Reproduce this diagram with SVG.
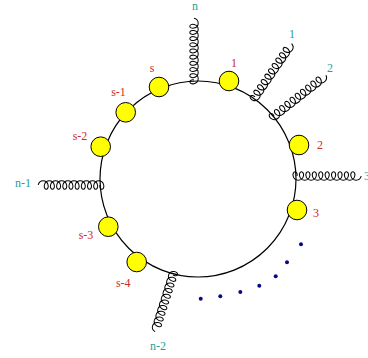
<svg xmlns="http://www.w3.org/2000/svg" xmlns:xlink="http://www.w3.org/1999/xlink" width="368" height="358" viewBox="0 0 368 358">
<style>
.ring{fill:none;stroke:#000;stroke-width:1.2}
.glu{fill:none;stroke:#000;stroke-width:1}
.blob{fill:#ffff00;stroke:#000;stroke-width:1}
.dot{fill:#0a0a80}
.lr{font-family:"Liberation Serif","Times New Roman",serif;font-size:12px;fill:#cc2a2a;text-anchor:middle}
.lt{font-family:"Liberation Serif","Times New Roman",serif;font-size:12px;fill:#1f9e9e;text-anchor:middle}
</style>
<defs>
<path id="g" class="glu" d="M0,0 c0.525,-2.31 -0.51,-4.2 -1.8,-4.2 c-1.29,0 -2.325,1.89 -1.8,4.2 c0.525,2.31 2.46,4.2 4.8,4.2 c2.34,0 4.275,-1.89 4.8,-4.2 c0.525,-2.31 -0.51,-4.2 -1.8,-4.2 c-1.29,0 -2.325,1.89 -1.8,4.2 c0.525,2.31 2.46,4.2 4.8,4.2 c2.34,0 4.275,-1.89 4.8,-4.2 c0.525,-2.31 -0.51,-4.2 -1.8,-4.2 c-1.29,0 -2.325,1.89 -1.8,4.2 c0.525,2.31 2.46,4.2 4.8,4.2 c2.34,0 4.275,-1.89 4.8,-4.2 c0.525,-2.31 -0.51,-4.2 -1.8,-4.2 c-1.29,0 -2.325,1.89 -1.8,4.2 c0.525,2.31 2.46,4.2 4.8,4.2 c2.34,0 4.275,-1.89 4.8,-4.2 c0.525,-2.31 -0.51,-4.2 -1.8,-4.2 c-1.29,0 -2.325,1.89 -1.8,4.2 c0.525,2.31 2.46,4.2 4.8,4.2 c2.34,0 4.275,-1.89 4.8,-4.2 c0.525,-2.31 -0.51,-4.2 -1.8,-4.2 c-1.29,0 -2.325,1.89 -1.8,4.2 c0.525,2.31 2.46,4.2 4.8,4.2 c2.34,0 4.275,-1.89 4.8,-4.2 c0.525,-2.31 -0.51,-4.2 -1.8,-4.2 c-1.29,0 -2.325,1.89 -1.8,4.2 c0.525,2.31 2.46,4.2 4.8,4.2 c2.34,0 4.275,-1.89 4.8,-4.2 c0.525,-2.31 -0.51,-4.2 -1.8,-4.2 c-1.29,0 -2.325,1.89 -1.8,4.2 c0.525,2.31 2.46,4.2 4.8,4.2 c2.34,0 4.275,-1.89 4.8,-4.2 c0.525,-2.31 -0.51,-4.2 -1.8,-4.2 c-1.29,0 -2.325,1.89 -1.8,4.2 c0.525,2.31 2.46,4.2 4.8,4.2 c2.34,0 4.275,-1.89 4.8,-4.2 c0.525,-2.31 -0.51,-4.2 -1.8,-4.2 c-1.29,0 -2.325,1.89 -1.8,4.2 c0.525,2.31 2.46,4.2 4.8,4.2 c2.34,0 4.275,-1.89 4.8,-4.2"/>
</defs>
<rect width="368" height="358" fill="#fff"/>
<g id="connectors">
<circle class="ring" cx="198" cy="179" r="98"/>
<use xlink:href="#g" href="#g" transform="translate(194,80) rotate(-90) scale(1.03,1)"/>
<use xlink:href="#g" href="#g" transform="translate(255,97) rotate(-55.6) scale(1.08,1)"/>
<use xlink:href="#g" href="#g" transform="translate(274,116) rotate(-38) scale(1.1,1)"/>
<use xlink:href="#g" href="#g" transform="translate(297,176) scale(1.07,1)"/>
<use xlink:href="#g" href="#g" transform="translate(100,185) rotate(180) scale(1.03,1)"/>
<use xlink:href="#g" href="#g" transform="translate(173,275) rotate(107.5) scale(0.99,1)"/>
</g>
<g id="dots">
<circle class="dot" cx="200.7" cy="298.7" r="2"/>
<circle class="dot" cx="220.3" cy="296.3" r="2"/>
<circle class="dot" cx="240.3" cy="292" r="2"/>
<circle class="dot" cx="259.3" cy="285.7" r="2"/>
<circle class="dot" cx="275.7" cy="276.3" r="2"/>
<circle class="dot" cx="287" cy="262.3" r="2"/>
<circle class="dot" cx="301" cy="244.3" r="2"/>
</g>
<g id="v1"><circle class="blob" cx="229" cy="81" r="9.8"/><text class="lr" x="234" y="67">1</text></g>
<g id="v2"><circle class="blob" cx="299" cy="145" r="9.8"/><text class="lr" x="320" y="149">2</text></g>
<g id="v3"><circle class="blob" cx="297" cy="210" r="9.8"/><text class="lr" x="316" y="217">3</text></g>
<g id="vs"><circle class="blob" cx="159" cy="87" r="9.8"/><text class="lr" x="152" y="72">s</text></g>
<g id="vs1"><circle class="blob" cx="125.7" cy="112.3" r="9.8"/><text class="lr" x="118.5" y="96">s-1</text></g>
<g id="vs2"><circle class="blob" cx="100.7" cy="146.7" r="9.8"/><text class="lr" x="80" y="140">s-2</text></g>
<g id="vs3"><circle class="blob" cx="108.3" cy="226.7" r="9.8"/><text class="lr" x="86" y="239">s-3</text></g>
<g id="vs4"><circle class="blob" cx="136.7" cy="262" r="9.8"/><text class="lr" x="123.3" y="287">s-4</text></g>
<g id="gluon-labels">
<text class="lt" x="195" y="10">n</text>
<text class="lt" x="292" y="38">1</text>
<text class="lt" x="330" y="72">2</text>
<text class="lt" x="364" y="180" style="text-anchor:start">3</text>
<text class="lt" x="23" y="187">n-1</text>
<text class="lt" x="158" y="350">n-2</text>
</g>
</svg>
